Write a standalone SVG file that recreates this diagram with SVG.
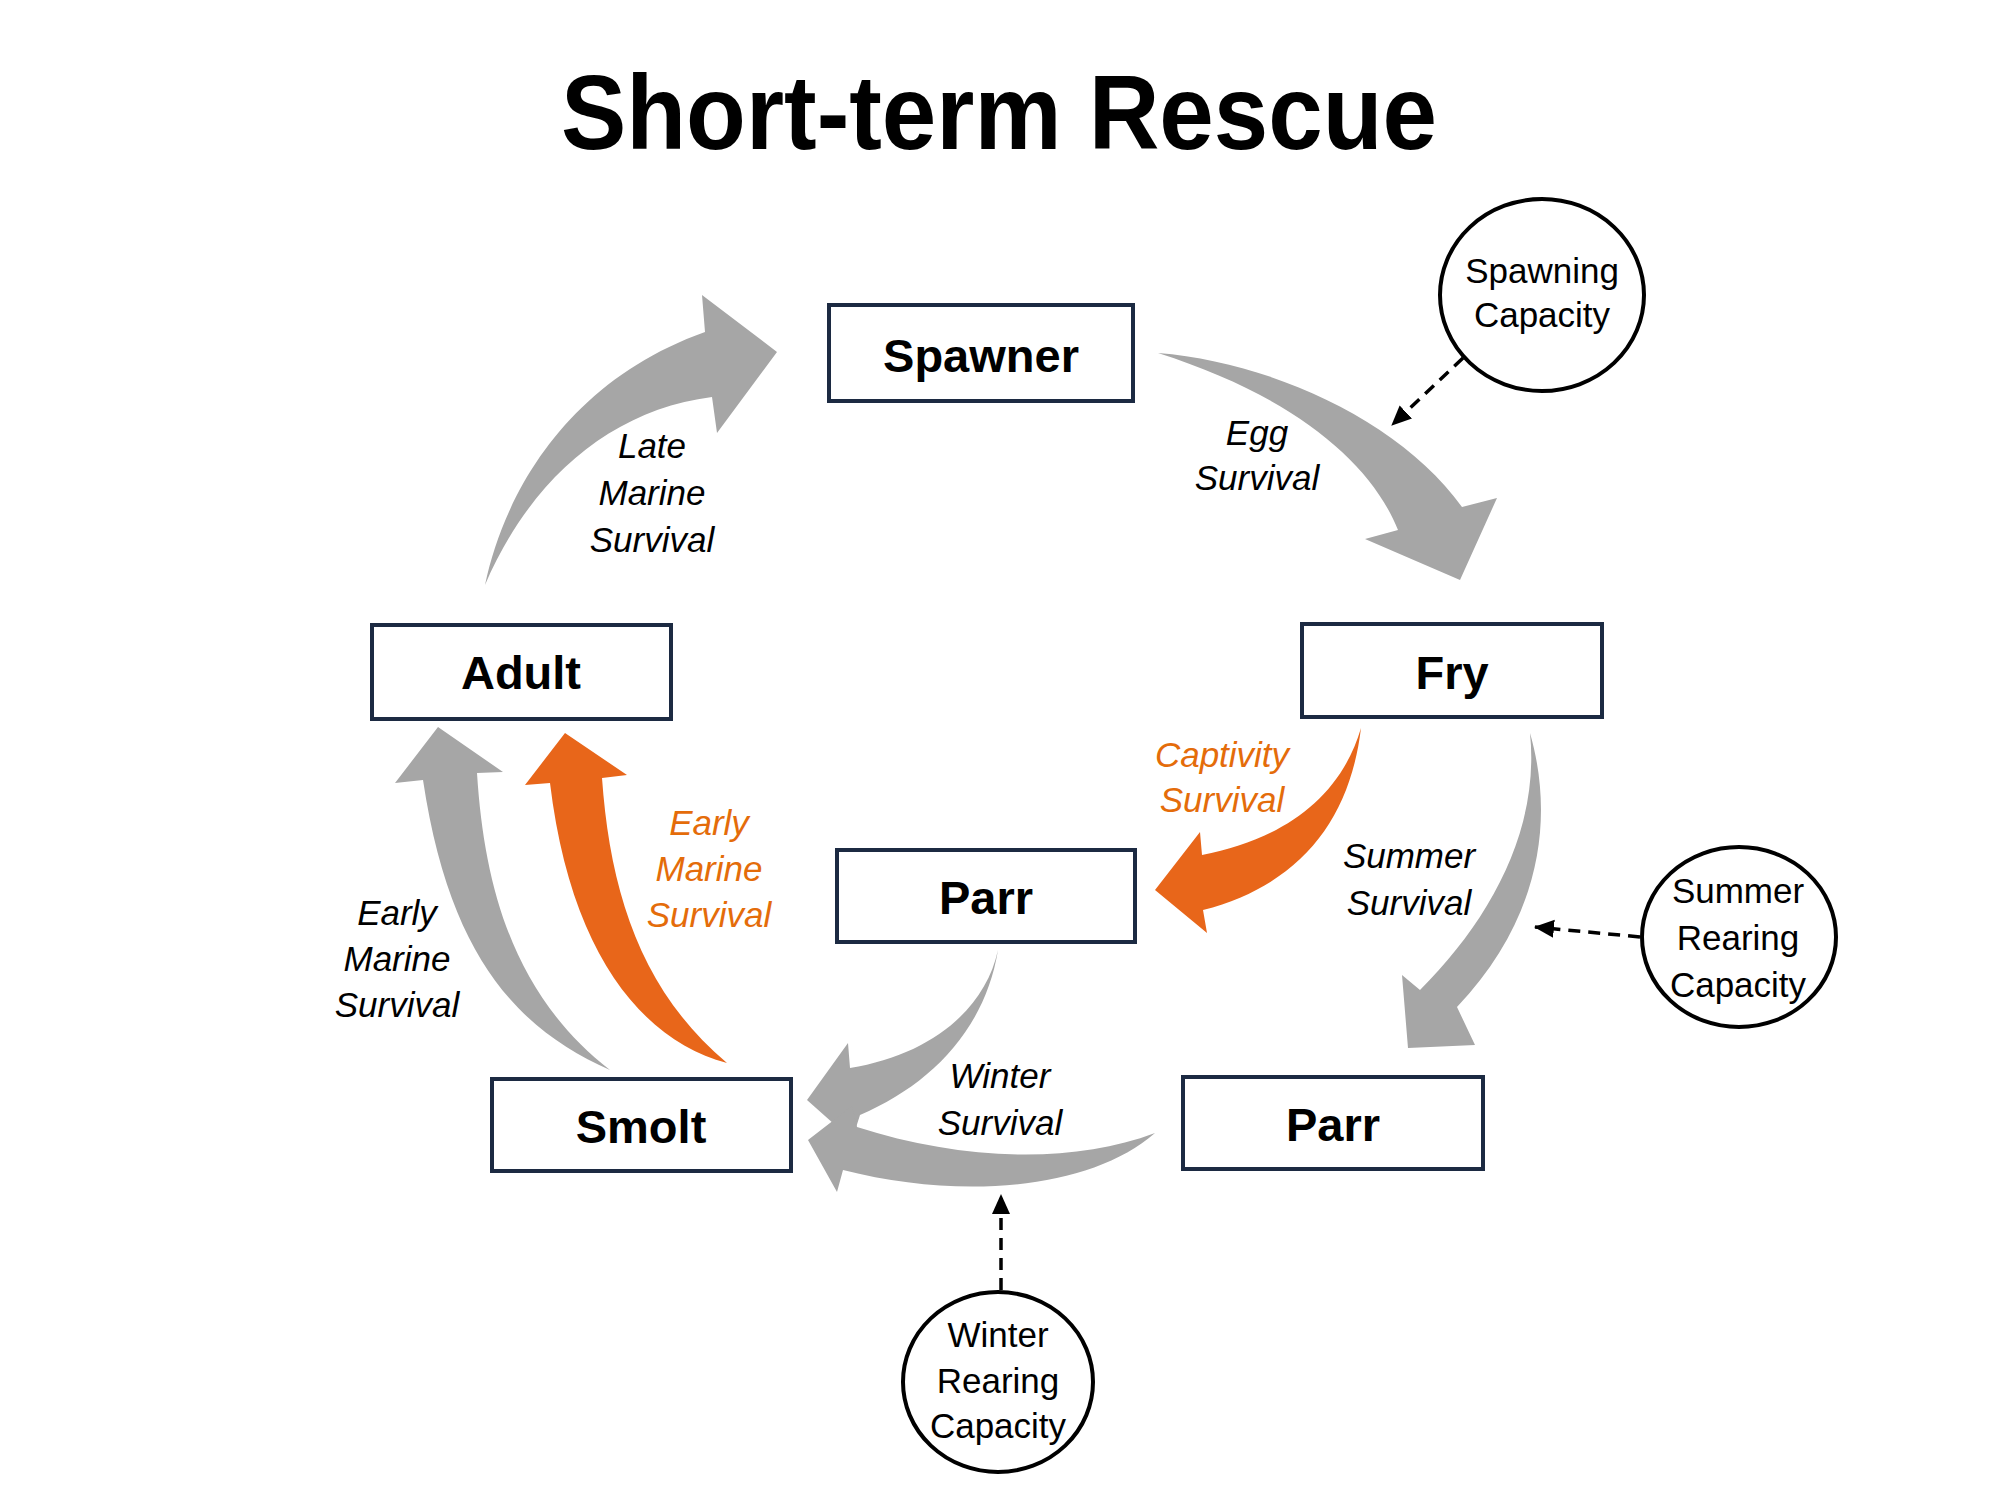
<svg xmlns="http://www.w3.org/2000/svg" width="2000" height="1500" viewBox="0 0 2000 1500">
<style>
text{font-family:"Liberation Sans",Arial,sans-serif;text-anchor:middle;fill:#000}
.title{font-size:105px;font-weight:bold}
.box rect{fill:#fff;stroke:#1c2a42;stroke-width:4}
.box text{font-size:47px;font-weight:bold}
.cap ellipse{fill:#fff;stroke:#000;stroke-width:4}
.cap text{font-size:35px}
.lbl{font-size:35px;font-style:italic}
.or{fill:#E46C0A}
.gray{fill:#A6A6A6}
.orange{fill:#E8661A}
.dash{fill:none;stroke:#000;stroke-width:3.5;stroke-dasharray:12 8;marker-end:url(#ah)}
</style>
<defs>
<marker id="ah" viewBox="0 0 20 20" refX="19" refY="10" markerWidth="20" markerHeight="20" markerUnits="userSpaceOnUse" orient="auto">
<path d="M0,1 L20,10 L0,19 Z" fill="#000"/>
</marker>
</defs>
<rect width="2000" height="1500" fill="#fff"/>
<text class="title" x="999" y="149" textLength="876" lengthAdjust="spacingAndGlyphs">Short-term Rescue</text>

<g id="connectors">
<g id="e-adult-spawner">
<path class="gray" d="M485,585 C505,490 570,380 705,332 L702,295 L777,352 L717,433 L712,397 C610,410 530,480 485,585 Z"/>
<text class="lbl" x="652" y="458">Late</text>
<text class="lbl" x="652" y="505">Marine</text>
<text class="lbl" x="652" y="552">Survival</text>
</g>
<g id="e-spawner-fry">
<path class="gray" d="M1158,353 C1270,362 1400,420 1462,507 L1497,498 L1460,580 L1365,539 L1398,530 C1370,460 1290,395 1158,353 Z"/>
<text class="lbl" x="1257" y="445">Egg</text>
<text class="lbl" x="1257" y="490">Survival</text>
</g>
<g id="e-fry-parr1">
<path class="orange" d="M1361,728 C1340,800 1280,840 1202,855 L1200,832 L1155,890 L1207,933 L1203,910 C1300,885 1350,820 1361,728 Z"/>
<text class="lbl or" x="1222" y="767">Captivity</text>
<text class="lbl or" x="1222" y="812">Survival</text>
</g>
<g id="e-fry-parr2">
<path class="gray" d="M1530,733 C1555,820 1540,920 1457,1007 L1475,1045 L1408,1048 L1402,975 L1420,990 C1490,920 1540,830 1530,733 Z"/>
<text class="lbl" x="1409" y="868">Summer</text>
<text class="lbl" x="1409" y="915">Survival</text>
</g>
<g id="e-parr1-smolt">
<path class="gray" d="M998,950 C985,1010 930,1055 850,1068 L848,1043 L807,1100 L852,1140 L860,1115 C930,1085 985,1030 998,950 Z"/>
</g>
<g id="e-parr2-smolt">
<path class="gray" d="M1155,1133 C1070,1165 960,1160 857,1127 L852,1106 L808,1140 L837,1192 L843,1170 C960,1200 1090,1190 1155,1133 Z"/>
<text class="lbl" x="1000" y="1088">Winter</text>
<text class="lbl" x="1000" y="1135">Survival</text>
</g>
<g id="e-smolt-adult-gray">
<path class="gray" d="M438,727 L503,772 L477,773 C485,900 520,1000 610,1070 C520,1030 450,960 423,780 L395,783 Z"/>
<text class="lbl" x="397" y="925">Early</text>
<text class="lbl" x="397" y="971">Marine</text>
<text class="lbl" x="397" y="1017">Survival</text>
</g>
<g id="e-smolt-adult-orange">
<path class="orange" d="M565,733 L627,775 L602,778 C610,890 640,990 727,1063 C640,1040 570,950 550,783 L525,785 Z"/>
<text class="lbl or" x="709" y="835">Early</text>
<text class="lbl or" x="709" y="881">Marine</text>
<text class="lbl or" x="709" y="927">Survival</text>
</g>
<path id="d-spawning" class="dash" d="M1463,358 L1392,425"/>
<path id="d-summer" class="dash" d="M1640,937 L1535,927"/>
<path id="d-winter" class="dash" d="M1001,1290 L1001,1195"/>
</g>

<g id="spawner" class="box"><rect x="829" y="305" width="304" height="96"/><text x="981" y="372">Spawner</text></g>
<g id="adult" class="box"><rect x="372" y="625" width="299" height="94"/><text x="521" y="689">Adult</text></g>
<g id="fry" class="box"><rect x="1302" y="624" width="300" height="93"/><text x="1452" y="689">Fry</text></g>
<g id="parr1" class="box"><rect x="837" y="850" width="298" height="92"/><text x="986" y="914">Parr</text></g>
<g id="smolt" class="box"><rect x="492" y="1079" width="299" height="92"/><text x="641" y="1143">Smolt</text></g>
<g id="parr2" class="box"><rect x="1183" y="1077" width="300" height="92"/><text x="1333" y="1141">Parr</text></g>

<g id="spawning-capacity" class="cap"><ellipse cx="1542" cy="295" rx="102" ry="96"/><text x="1542" y="283">Spawning</text><text x="1542" y="327">Capacity</text></g>
<g id="summer-rearing-capacity" class="cap"><ellipse cx="1739" cy="937" rx="97" ry="90"/><text x="1738" y="903">Summer</text><text x="1738" y="950">Rearing</text><text x="1738" y="997">Capacity</text></g>
<g id="winter-rearing-capacity" class="cap"><ellipse cx="998" cy="1382" rx="95" ry="90"/><text x="998" y="1347">Winter</text><text x="998" y="1393">Rearing</text><text x="998" y="1438">Capacity</text></g>
</svg>
